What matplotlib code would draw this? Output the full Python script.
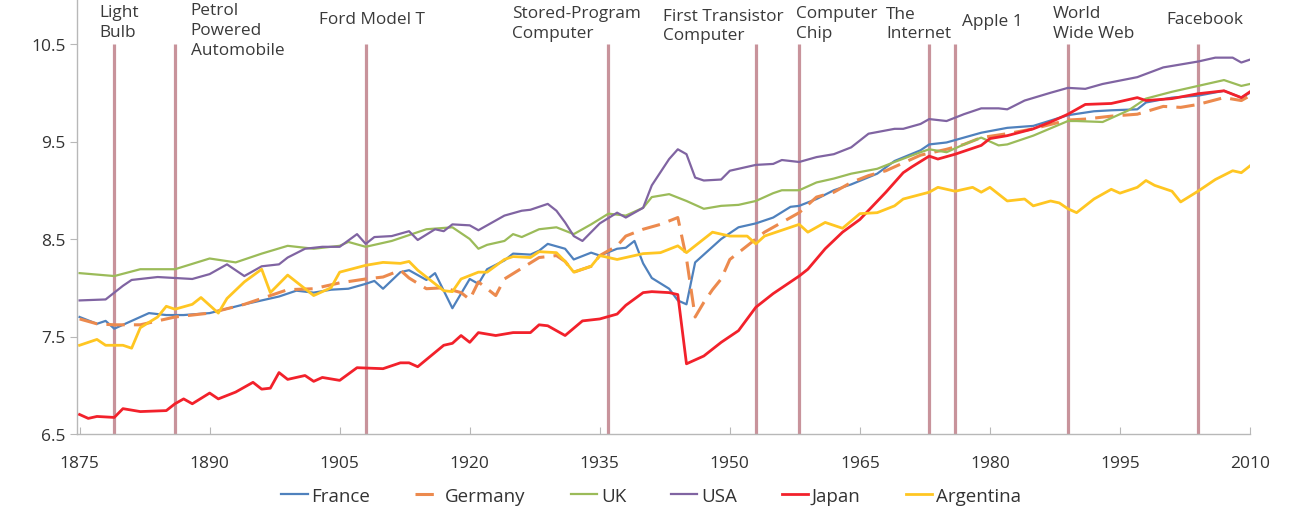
import matplotlib
matplotlib.use("Agg")
import matplotlib.pyplot as plt

plt.rcParams['font.family'] = ['Open Sans', 'DejaVu Sans']

# ---------------- data ----------------
france_years = [1875, 1877, 1878, 1879, 1881, 1883, 1885, 1887, 1890, 1894, 1896, 1898, 1900, 1902, 1904,
                1906, 1908, 1909, 1910, 1912, 1913, 1915, 1916, 1918, 1920, 1921, 1922, 1924, 1925, 1927,
                1928, 1929, 1931, 1932, 1934, 1935, 1937, 1938, 1939, 1940, 1941, 1943, 1944, 1945, 1946,
                1947, 1949, 1951, 1953, 1955, 1957, 1958, 1960, 1962, 1964, 1967, 1969, 1972, 1973, 1975,
                1977, 1979, 1982, 1985, 1989, 1992, 1994, 1997, 1998, 2001, 2004, 2007, 2009, 2010]
france_vals = [7.70, 7.63, 7.66, 7.58, 7.66, 7.74, 7.72, 7.72, 7.74, 7.83, 7.87, 7.91, 7.97, 7.95, 7.98,
               7.99, 8.04, 8.07, 7.99, 8.16, 8.18, 8.08, 8.15, 7.79, 8.09, 8.04, 8.19, 8.28, 8.35, 8.34,
               8.38, 8.45, 8.40, 8.29, 8.36, 8.33, 8.40, 8.41, 8.48, 8.25, 8.10, 7.99, 7.87, 7.83, 8.26,
               8.34, 8.50, 8.62, 8.66, 8.72, 8.83, 8.84, 8.91, 9.00, 9.06, 9.17, 9.30, 9.41, 9.47, 9.49,
               9.54, 9.59, 9.64, 9.66, 9.77, 9.81, 9.82, 9.83, 9.90, 9.95, 9.97, 10.02, 9.95, 10.00]

germany_years = [1875, 1877, 1879, 1882, 1886, 1890, 1894, 1899, 1902, 1905, 1908, 1910, 1912, 1913, 1915,
                 1917, 1919, 1920, 1921, 1923, 1924, 1926, 1928, 1930, 1931, 1932, 1934, 1935, 1937, 1938,
                 1940, 1942, 1944, 1945, 1946, 1947, 1948, 1949, 1950, 1953, 1954, 1956, 1958, 1960, 1962,
                 1964, 1966, 1968, 1970, 1972, 1975, 1977, 1979, 1982, 1985, 1989, 1991, 1994, 1997, 2000,
                 2002, 2004, 2007, 2009, 2010]
germany_vals = [7.68, 7.63, 7.62, 7.62, 7.70, 7.74, 7.83, 7.98, 7.99, 8.05, 8.09, 8.11, 8.18, 8.10, 7.99,
                8.00, 7.95, 7.88, 8.06, 7.92, 8.09, 8.20, 8.31, 8.33, 8.27, 8.16, 8.22, 8.33, 8.43, 8.53,
                8.60, 8.65, 8.72, 8.30, 7.70, 7.85, 7.98, 8.09, 8.29, 8.50, 8.57, 8.67, 8.77, 8.93, 8.98,
                9.08, 9.15, 9.20, 9.28, 9.36, 9.42, 9.47, 9.54, 9.58, 9.63, 9.72, 9.73, 9.76, 9.78, 9.86,
                9.85, 9.88, 9.95, 9.92, 9.97]

uk_years = [1875, 1879, 1882, 1886, 1890, 1893, 1896, 1899, 1902, 1905, 1906, 1908, 1911, 1913, 1915,
            1918, 1920, 1921, 1922, 1924, 1925, 1926, 1928, 1930, 1932, 1934, 1936, 1938, 1940, 1941,
            1943, 1945, 1947, 1949, 1951, 1953, 1955, 1956, 1958, 1960, 1962, 1964, 1967, 1969, 1972,
            1973, 1975, 1977, 1979, 1981, 1982, 1985, 1989, 1990, 1993, 1996, 1998, 2001, 2004, 2007,
            2009, 2010]
uk_vals = [8.15, 8.12, 8.19, 8.19, 8.30, 8.26, 8.35, 8.43, 8.40, 8.43, 8.47, 8.42, 8.48, 8.54, 8.60,
           8.62, 8.50, 8.40, 8.44, 8.48, 8.55, 8.52, 8.60, 8.62, 8.55, 8.65, 8.76, 8.74, 8.82, 8.93,
           8.96, 8.89, 8.81, 8.84, 8.85, 8.89, 8.97, 9.00, 9.00, 9.08, 9.12, 9.17, 9.22, 9.29, 9.39,
           9.42, 9.39, 9.47, 9.54, 9.46, 9.47, 9.56, 9.71, 9.71, 9.70, 9.82, 9.94, 10.01, 10.07, 10.13,
           10.07, 10.09]

usa_years = [1875, 1878, 1880, 1881, 1884, 1886, 1888, 1890, 1892, 1894, 1896, 1898, 1899, 1901, 1903,
             1905, 1907, 1908, 1909, 1911, 1913, 1914, 1916, 1917, 1918, 1920, 1921, 1924, 1926, 1927,
             1929, 1930, 1931, 1932, 1933, 1934, 1935, 1937, 1938, 1940, 1941, 1943, 1944, 1945, 1946,
             1947, 1949, 1950, 1953, 1955, 1956, 1958, 1960, 1962, 1964, 1966, 1969, 1970, 1972, 1973,
             1975, 1977, 1979, 1981, 1982, 1984, 1987, 1989, 1991, 1993, 1997, 2000, 2002, 2004, 2006,
             2008, 2009, 2010]
usa_vals = [7.87, 7.88, 8.02, 8.08, 8.11, 8.10, 8.09, 8.14, 8.24, 8.12, 8.22, 8.24, 8.31, 8.40, 8.42,
            8.42, 8.55, 8.45, 8.52, 8.53, 8.58, 8.49, 8.60, 8.58, 8.65, 8.64, 8.59, 8.74, 8.79, 8.80,
            8.86, 8.79, 8.67, 8.53, 8.48, 8.57, 8.66, 8.77, 8.72, 8.82, 9.05, 9.32, 9.42, 9.37, 9.13,
            9.10, 9.11, 9.20, 9.26, 9.27, 9.31, 9.29, 9.34, 9.37, 9.44, 9.58, 9.63, 9.63, 9.68, 9.73,
            9.71, 9.78, 9.84, 9.84, 9.83, 9.92, 10.00, 10.05, 10.04, 10.09, 10.16, 10.26, 10.29, 10.32, 10.36,
            10.36, 10.31, 10.34]

japan_years = [1875, 1876, 1877, 1879, 1880, 1882, 1885, 1886, 1887, 1888, 1890, 1891, 1893, 1895, 1896,
               1897, 1898, 1899, 1901, 1902, 1903, 1905, 1907, 1910, 1912, 1913, 1914, 1917, 1918, 1919,
               1920, 1921, 1923, 1925, 1927, 1928, 1929, 1931, 1933, 1935, 1937, 1938, 1940, 1941, 1943,
               1944, 1945, 1947, 1949, 1951, 1953, 1955, 1958, 1959, 1961, 1963, 1965, 1968, 1970, 1971,
               1973, 1974, 1976, 1979, 1980, 1982, 1985, 1987, 1989, 1991, 1994, 1997, 1998, 2001, 2004,
               2007, 2009, 2010]
japan_vals = [6.70, 6.66, 6.68, 6.67, 6.76, 6.73, 6.74, 6.81, 6.86, 6.81, 6.92, 6.86, 6.93, 7.03, 6.96,
              6.97, 7.13, 7.06, 7.10, 7.04, 7.08, 7.05, 7.18, 7.17, 7.23, 7.23, 7.19, 7.41, 7.43, 7.51,
              7.44, 7.54, 7.51, 7.54, 7.54, 7.62, 7.61, 7.51, 7.66, 7.68, 7.73, 7.82, 7.95, 7.96, 7.95,
              7.93, 7.22, 7.30, 7.44, 7.56, 7.80, 7.94, 8.12, 8.19, 8.40, 8.57, 8.70, 8.98, 9.18, 9.24,
              9.35, 9.32, 9.37, 9.46, 9.53, 9.56, 9.63, 9.70, 9.78, 9.88, 9.89, 9.95, 9.92, 9.94, 9.99,
              10.02, 9.95, 10.01]

argentina_years = [1875, 1877, 1878, 1880, 1881, 1882, 1884, 1885, 1886, 1888, 1889, 1891, 1892, 1894, 1896,
                   1897, 1899, 1901, 1902, 1904, 1905, 1908, 1910, 1912, 1913, 1914, 1915, 1917, 1918, 1919,
                   1921, 1922, 1924, 1925, 1927, 1928, 1930, 1931, 1932, 1934, 1935, 1937, 1938, 1940, 1942,
                   1944, 1945, 1947, 1948, 1950, 1952, 1953, 1954, 1956, 1958, 1959, 1961, 1963, 1965, 1967,
                   1969, 1970, 1973, 1974, 1976, 1978, 1979, 1980, 1981, 1982, 1984, 1985, 1987, 1988, 1989,
                   1990, 1992, 1994, 1995, 1997, 1998, 1999, 2001, 2002, 2004, 2006, 2008, 2009, 2010]
argentina_vals = [7.41, 7.47, 7.41, 7.41, 7.38, 7.59, 7.70, 7.81, 7.78, 7.83, 7.90, 7.74, 7.89, 8.06, 8.19,
                  7.95, 8.13, 7.99, 7.92, 8.00, 8.16, 8.23, 8.26, 8.25, 8.27, 8.18, 8.11, 7.97, 7.96, 8.09,
                  8.16, 8.16, 8.29, 8.32, 8.31, 8.37, 8.36, 8.27, 8.16, 8.22, 8.33, 8.29, 8.31, 8.35, 8.36,
                  8.43, 8.36, 8.50, 8.57, 8.53, 8.53, 8.45, 8.53, 8.59, 8.65, 8.57, 8.67, 8.61, 8.76, 8.77,
                  8.84, 8.91, 8.98, 9.03, 8.99, 9.03, 8.98, 9.03, 8.96, 8.89, 8.91, 8.84, 8.89, 8.87, 8.81,
                  8.77, 8.91, 9.01, 8.97, 9.03, 9.10, 9.05, 8.99, 8.88, 8.99, 9.11, 9.20, 9.18, 9.25]

event_years = [1879, 1886, 1908, 1936, 1953, 1958, 1973, 1976, 1989, 2004]
event_labels = ["Light\nBulb", "Petrol\nPowered\nAutomobile", "Ford Model T", "Stored-Program\nComputer",
                "First Transistor\nComputer", "Computer\nChip", "The\nInternet", "Apple 1",
                "World\nWide Web", "Facebook"]

x_ticks = [1875, 1890, 1905, 1920, 1935, 1950, 1965, 1980, 1995, 2010]
y_ticks = [6.5, 7.5, 8.5, 9.5, 10.5]

# ---------------- layout / style (not data) ----------------
label_x = [1877.3, 1887.8, 1902.6, 1924.9, 1942.3, 1957.6, 1968.0, 1976.8, 1987.3, 2000.4]
label_y = [10.726, 10.644, 10.756, 10.715, 10.690, 10.715, 10.712, 10.740, 10.715, 10.756]

series = [
    ("France", france_years, france_vals, dict(color="#4f81bd", lw=1.6)),
    ("Germany", germany_years, germany_vals, dict(color="#ec8a4e", lw=2.2, dashes=(6, 3))),
    ("UK", uk_years, uk_vals, dict(color="#9bbb59", lw=1.6)),
    ("USA", usa_years, usa_vals, dict(color="#8064a2", lw=1.6)),
    ("Japan", japan_years, japan_vals, dict(color="#f2212b", lw=2.0)),
    ("Argentina", argentina_years, argentina_vals, dict(color="#ffc622", lw=2.0)),
]

W, H = 1301, 510
fig = plt.figure(figsize=(W / 100, H / 100), dpi=100)
ax = fig.add_axes([77 / W, 75 / H, 1173 / W, 435 / H])
ax.set_xlim(1874.7, 2009.7)
ax.set_ylim(6.5, 6.5 + 435 / 97.5)

# event lines
ax.vlines(event_years, 6.5, 10.5, color="#c8939b", lw=2.3, zorder=1)

for name, xs, ys, st in series:
    ax.plot(xs, ys, label=name, zorder=3, solid_joinstyle="round", **st)

for lx, ly, txt in zip(label_x, label_y, event_labels):
    ax.text(lx, ly, txt, ha="left", va="center", fontsize=12.4, color="#3a3a3a",
            linespacing=1.3, clip_on=False)

for s in ["top", "right"]:
    ax.spines[s].set_visible(False)
for s in ["left", "bottom"]:
    ax.spines[s].set_color("#b8b8b8")
    ax.spines[s].set_linewidth(1.0)

ax.set_xticks(x_ticks)
ax.set_yticks(y_ticks)
ax.set_yticklabels([f"{v:.1f}" for v in y_ticks])
ax.tick_params(axis="x", direction="in", length=5, color="#b8b8b8", labelsize=12.5,
               labelcolor="#333333", pad=15)
ax.tick_params(axis="y", direction="out", length=5, color="#b8b8b8", labelsize=12.5,
               labelcolor="#333333", pad=3)

leg = fig.legend(loc="center", bbox_to_anchor=(651 / W, 1 - 497 / H), ncol=6, frameon=False,
                 fontsize=13.5, handlelength=1.4, handletextpad=0.2, columnspacing=2.4)
for t in leg.get_texts():
    t.set_color("#333333")

fig.savefig("out.png", dpi=100)
